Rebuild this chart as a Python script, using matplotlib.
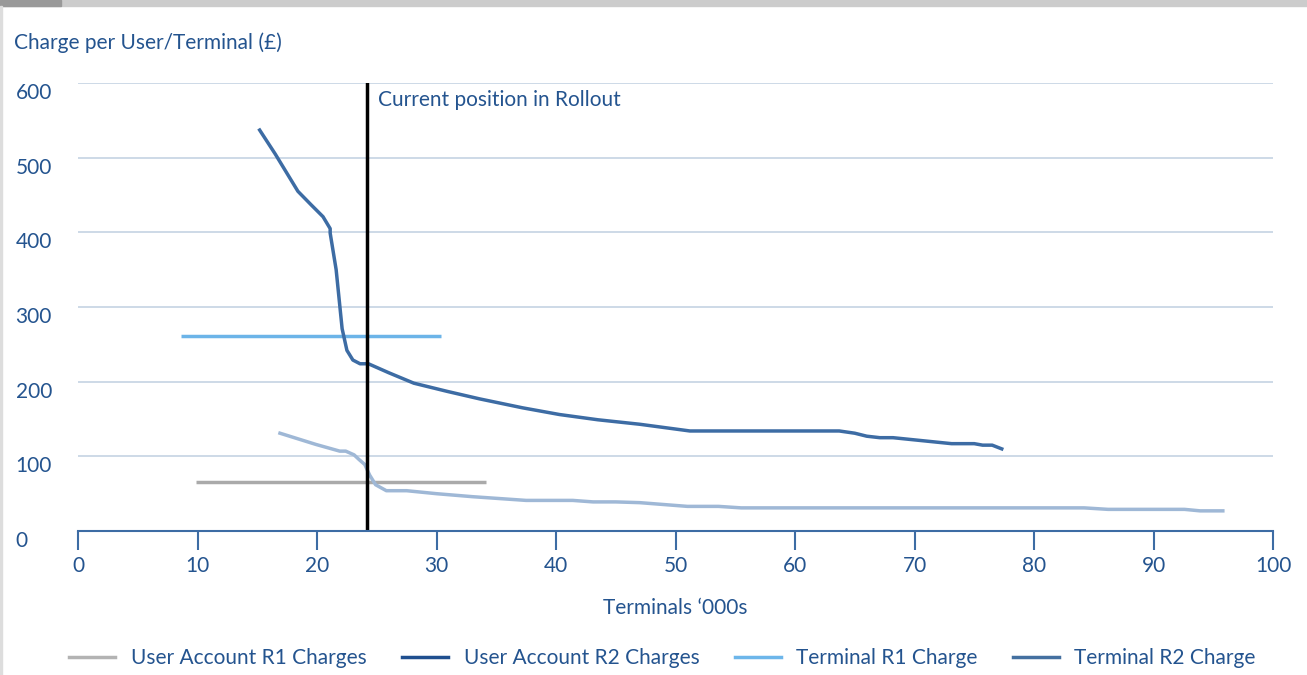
import matplotlib.pyplot as plt
from matplotlib.lines import Line2D
from matplotlib.patches import Rectangle

# data (terminals in '000s, charge in GBP)
terminal_r2_x = [15.2, 16.5, 18.4, 19.5, 20.5, 21.1, 21.1, 21.6, 22.1, 22.5, 23.0, 23.6, 24.3,
                 26.0, 28.1, 30.9, 33.6, 37.2, 40.3, 43.5, 47.0, 51.2, 63.7, 65.0, 66.0, 67.1,
                 68.2, 73.1, 75.0, 75.7, 76.5, 77.3]
terminal_r2_y = [537, 505, 455, 437, 421, 405, 399, 350, 271, 242, 229, 224, 224,
                 212, 198, 187, 177, 165, 156, 149, 143, 134, 134, 131, 127, 125,
                 125, 117, 117, 115, 115, 110]

user_r2_x = [16.9, 19.9, 21.9, 22.4, 23.1, 23.5, 24.0, 24.4, 24.9, 25.8, 27.5, 30.0, 33.0,
             37.5, 41.4, 43.1, 45.0, 47.0, 51.0, 53.6, 55.5, 84.2, 86.2, 92.6, 93.9, 95.8]
user_r2_y = [131, 116, 107, 107, 102, 96, 89, 75, 62, 54, 54, 50, 46,
             41, 41, 39, 39, 38, 33, 33, 31, 31, 29, 29, 27, 27]

user_r1_x = [9.9, 34.1]
user_r1_y = [65, 65]

terminal_r1_x = [8.6, 30.4]
terminal_r1_y = [261, 261]

current_position = 24.2

legend_labels = ['User Account R1 Charges', 'User Account R2 Charges',
                 'Terminal R1 Charge', 'Terminal R2 Charge']
legend_colors = ['#b3b3b3', '#1f4f8f', '#6db6ea', '#4470a0']

text_color = '#24548f'
plt.rcParams['font.family'] = ['Lato', 'DejaVu Sans']

fig = plt.figure(figsize=(13.07, 6.75), dpi=100)
ax = fig.add_axes([0.0597, 0.2133, 0.9143, 0.6637])

# top banner and left border
fig.patches.append(Rectangle((0, 0.991), 1, 0.009, transform=fig.transFigure, color='#cccccc'))
fig.patches.append(Rectangle((0, 0.991), 0.047, 0.009, transform=fig.transFigure, color='#999999'))
fig.patches.append(Rectangle((0, 0), 0.0015, 0.991, transform=fig.transFigure, color='#dddddd'))

ax.plot(user_r1_x, user_r1_y, color='#aaaaaa', lw=2.5, solid_capstyle='butt')
ax.plot(terminal_r1_x, terminal_r1_y, color='#6cb4e8', lw=2.5, solid_capstyle='butt')
ax.plot(user_r2_x, user_r2_y, color='#9fb8d6', lw=2.5)
ax.plot(terminal_r2_x, terminal_r2_y, color='#3d6ca4', lw=2.5)
ax.axvline(current_position, ymin=0, ymax=1, color='black', lw=2.5)
ax.text(current_position + 0.9, 577, 'Current position in Rollout', color=text_color,
        fontsize=15, va='center', ha='left')

ax.set_xlim(0, 100)
ax.set_ylim(0, 600)
ax.set_xticks(range(0, 101, 10))
ax.set_yticks(range(0, 601, 100))
ax.grid(axis='y', color='#c5d3e3', lw=1.2)
ax.set_axisbelow(True)
for s in ['top', 'right', 'left']:
    ax.spines[s].set_visible(False)
ax.spines['bottom'].set_color('#3d6ca4')
ax.spines['bottom'].set_linewidth(1.5)
ax.tick_params(axis='x', direction='out', length=14, width=1.5, color='#3d6ca4',
               labelcolor=text_color, labelsize=15, pad=4)
ax.tick_params(axis='y', length=0, labelcolor=text_color, labelsize=15, pad=45)
for lbl in ax.get_yticklabels():
    lbl.set_horizontalalignment('left')
    lbl.set_verticalalignment('top')

ax.set_xlabel("Terminals \u2018000s", color=text_color, fontsize=15, labelpad=16)
fig.text(0.011, 0.937, 'Charge per User/Terminal (\u00a3)', color=text_color, fontsize=15,
         va='center', ha='left')

handles = [Line2D([], [], color=c, lw=2.5) for c in legend_colors]
leg = fig.legend(handles, legend_labels, loc='center', bbox_to_anchor=(0.507, 0.025), ncol=4,
                 frameon=False, fontsize=15, handlelength=2.2, columnspacing=1.7,
                 handletextpad=0.75)
for t in leg.get_texts():
    t.set_color(text_color)

fig.savefig('out.png', dpi=100)
